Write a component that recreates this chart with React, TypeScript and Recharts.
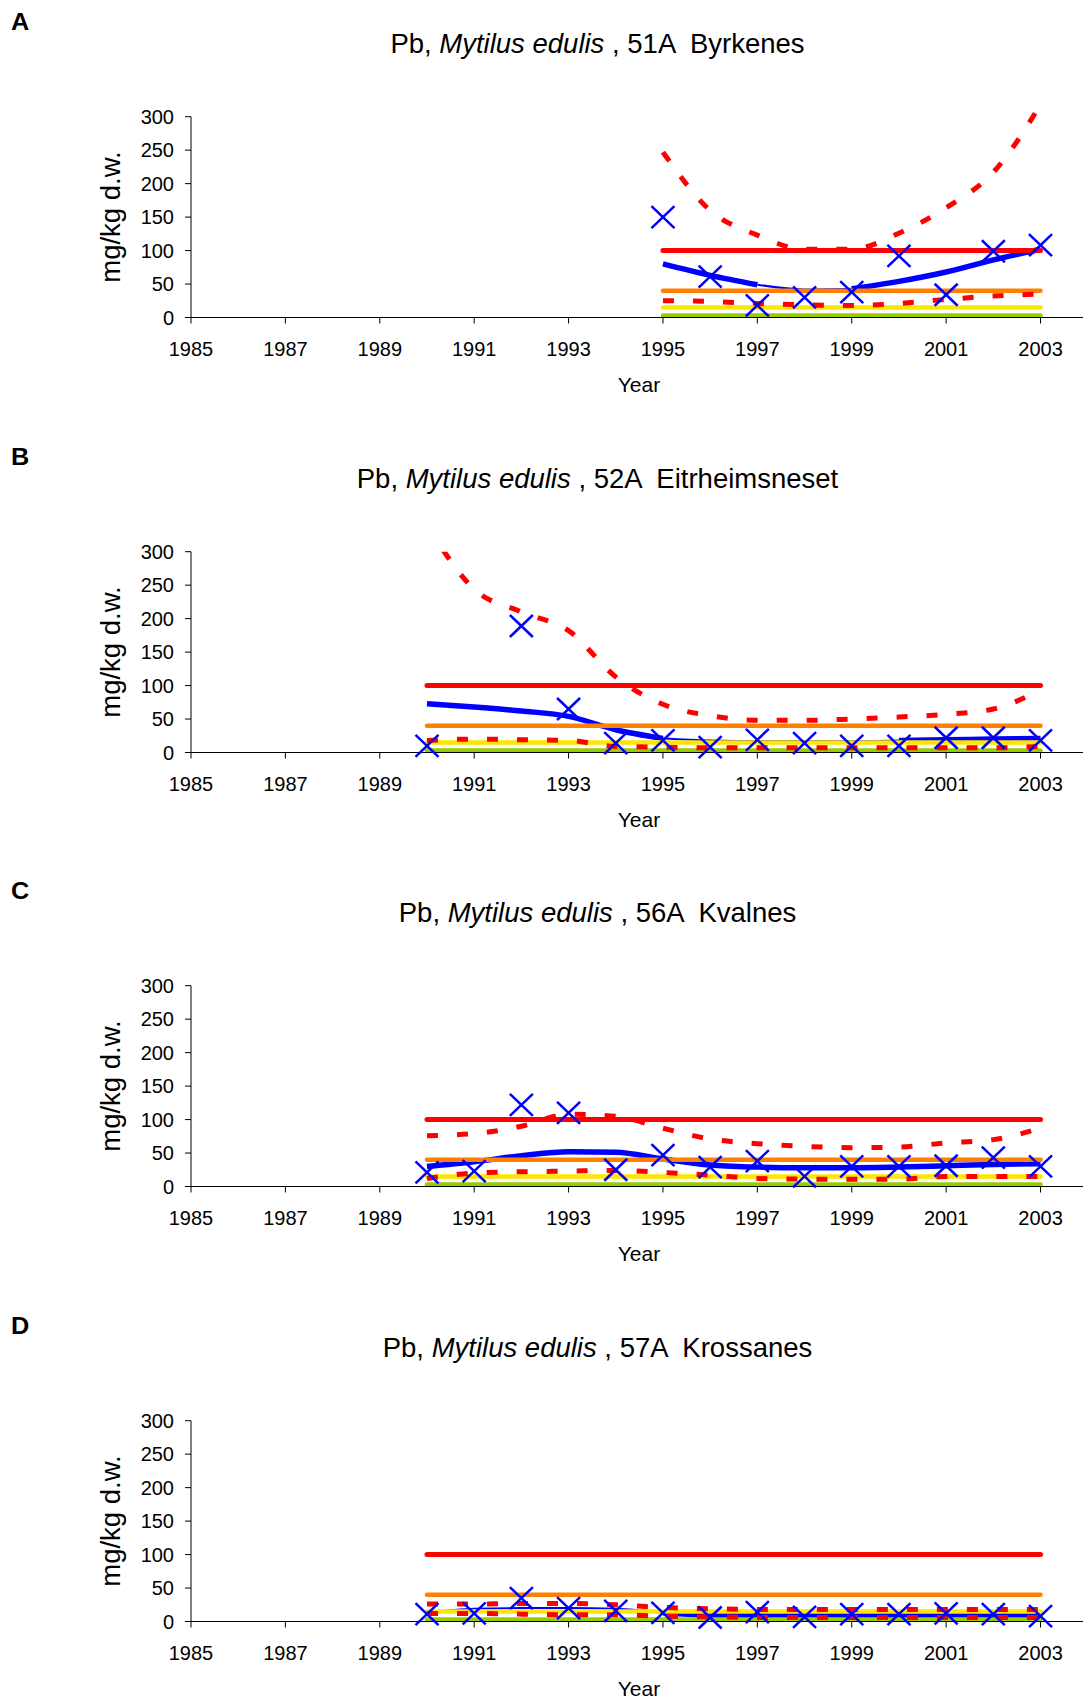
import React from 'react';
import { ComposedChart, Line, XAxis, YAxis, ReferenceLine } from 'recharts';

// ---------- data ----------
const yearsA = [1995, 1996, 1997, 1998, 1999, 2000, 2001, 2002, 2003];
const yearsLong = [1990, 1991, 1992, 1993, 1994, 1995, 1996, 1997, 1998, 1999, 2000, 2001, 2002, 2003];

const obsA = [150, 61, 18, 30, 38, 92, 34, 99, 108];
const trendA = [80, 63, 49, 42, 43, 54, 68, 86, 102];
const upperA = [247, 160, 123, 102, 102, 126, 164, 217, 318];
const lowerA = [25, 24, 21, 19, 18, 21, 27, 32, 35];

const obsB = [10, null, 189, 65, 14, 18, 8, 19, 14, 10, 10, 22, 22, 18];
const trendB = [73, 68, 62, 54, 34, 21, 18, 17, 17, 17, 18, 19, 20, 21];
const upperB = [340, 244, 210, 182, 113, 72, 55, 48, 48, 50, 53, 57, 65, 93];
const lowerB = [18, 20, 19, 18, 9, 8, 7, 7, 7, 7, 7, 7, 7, 9];

const obsC = [21, 23, 122, 110, 25, 47, 29, 38, 15, 30, 30, 31, 43, 30];
const trendC = [30, 37, 46, 52, 51, 41, 32, 29, 28, 28, 29, 31, 33, 34];
const upperC = [76, 79, 90, 108, 105, 87, 71, 64, 60, 58, 59, 65, 70, 87];
const lowerC = [12, 20, 22, 23, 24, 21, 17, 12, 11, 11, 11, 15, 15, 15];

const obsD = [11, 12, 35, 20, 16, 13, 6, 14, 7, 11, 11, 12, 11, 8];
const trendD = [13, 19, 20, 20, 19, 13, 9.5, 9, 9, 9, 9, 9, 9, 9];
const upperD = [26, 26, 27, 27, 25, 21, 19, 18, 18, 18, 18, 18, 18, 18];
const lowerD = [12, 12, 11, 10, 10, 8, 7, 6, 6, 6, 6, 6, 6, 6];

// SFT classification limits (mg/kg d.w.)
const limitGreen = 3;
const limitYellow = 15;
const limitOrange = 40;
const limitRed = 100;

const xTicks = [1985, 1987, 1989, 1991, 1993, 1995, 1997, 1999, 2001, 2003];
const yTicks = [0, 50, 100, 150, 200, 250, 300];

const letters = ['A', 'B', 'C', 'D'];
const stations = ['51A  Byrkenes', '52A  Eitrheimsneset', '56A  Kvalnes', '57A  Krossanes'];
const species = 'Mytilus edulis';
const yLabel = 'mg/kg d.w.';
const xLabel = 'Year';

// ---------- layout / style ----------
const FONT = '"Liberation Sans", Arial, Helvetica, sans-serif';
const W = 1083;
const H = 435;
const STEP = 434.7;
const PLOT_LEFT = 191;
const Y0 = 317.5;
const PX_PER_UNIT = 200.8 / 300;
const Y_AXIS_W = 60;
const X_AXIS_H = 30;

const RED = '#FF0000';
const ORANGE = '#FF8000';
const YELLOW = '#FFE600';
const GREEN = '#99CC00';
const BLUE = '#0000FF';

type PanelCfg = {
  years: number[];
  obs: (number | null)[];
  trend: number[];
  upper: number[];
  lower: number[];
  thin: [number, number] | null;
  yMax: number;
};

const panels: PanelCfg[] = [
  { years: yearsA, obs: obsA, trend: trendA, upper: upperA, lower: lowerA, thin: [1997, 1999], yMax: 320 },
  { years: yearsLong, obs: obsB, trend: trendB, upper: upperB, lower: lowerB, thin: [1995, 2000], yMax: 300 },
  { years: yearsLong, obs: obsC, trend: trendC, upper: upperC, lower: lowerC, thin: null, yMax: 300 },
  { years: yearsLong, obs: obsD, trend: trendD, upper: upperD, lower: lowerD, thin: [1990, 1995], yMax: 300 },
];

const XMark = (props: any) => {
  const { cx, cy, value, index } = props;
  if (cx == null || cy == null || value == null || Number.isNaN(cy)) return <g key={`xm-${index}`} />;
  const hx = 11.5;
  const hy = 11;
  return (
    <g key={`xm-${index}`}>
      <line x1={cx - hx} y1={cy - hy} x2={cx + hx} y2={cy + hy} stroke={BLUE} strokeWidth={2.5} />
      <line x1={cx - hx} y1={cy + hy} x2={cx + hx} y2={cy - hy} stroke={BLUE} strokeWidth={2.5} />
    </g>
  );
};

function Txt(props: { x: number; y: number; size: number; weight?: string; rotate?: number; scaleX?: number; anchor?: 'center' | 'left'; children: React.ReactNode }) {
  const { x, y, size, weight, rotate, scaleX, anchor, children } = props;
  const tx = anchor === 'left' ? '0' : '-50%';
  return (
    <div
      style={{
        position: 'absolute',
        left: x,
        top: y,
        transform: `translate(${tx}, -50%)${rotate ? ` rotate(${rotate}deg)` : ''}${scaleX ? ` scaleX(${scaleX})` : ''}`,
        transformOrigin: anchor === 'left' ? 'left center' : 'center center',
        fontFamily: FONT,
        fontSize: size,
        fontWeight: weight || 'normal',
        lineHeight: 1,
        whiteSpace: 'pre',
        color: '#000',
      }}
    >
      {children}
    </div>
  );
}

function Panel({ cfg, index }: { cfg: PanelCfg; index: number }) {
  const top = index * STEP;
  const plotTop = Y0 - cfg.yMax * PX_PER_UNIT;
  const data = cfg.years.map((year, i) => {
    const t = cfg.trend[i];
    const isThin = cfg.thin ? year >= cfg.thin[0] && year <= cfg.thin[1] : false;
    const isThick = cfg.thin ? year <= cfg.thin[0] || year >= cfg.thin[1] : true;
    return {
      year,
      obs: cfg.obs[i],
      trendThick: isThick ? t : null,
      trendThin: isThin ? t : null,
      upper: cfg.upper[i],
      lower: cfg.lower[i],
      green: limitGreen,
      yellow: limitYellow,
      orange: limitOrange,
      red: limitRed,
    };
  });

  const common = { isAnimationActive: false, dot: false, activeDot: false, legendType: 'none' as const, yAxisId: 'm', type: 'monotone' as const };
  const classLine = { ...common, type: 'linear' as const, strokeLinecap: 'round' as const };

  return (
    <div style={{ position: 'absolute', left: 0, top, width: W, height: H }}>
      <ComposedChart
        width={W}
        height={H}
        data={data}
        margin={{ top: plotTop, right: 0, left: PLOT_LEFT - Y_AXIS_W, bottom: H - Y0 - X_AXIS_H }}
      >
        <XAxis
          dataKey="year"
          type="number"
          domain={[1985, 2003.9]}
          ticks={xTicks}
          interval={0}
          height={X_AXIS_H}
          axisLine={{ stroke: '#000', strokeWidth: 1 }}
          tickLine={{ stroke: '#000' }}
          tickSize={6}
          tickMargin={18}
          tick={{ fill: '#000', fontSize: 20, fontFamily: FONT }}
        />
        <YAxis
          yAxisId="c"
          type="number"
          width={Y_AXIS_W}
          domain={[0, cfg.yMax]}
          allowDataOverflow
          ticks={yTicks}
          interval={0}
          axisLine={false}
          tickLine={{ stroke: '#000' }}
          tickSize={6}
          tickMargin={11}
          tick={{ fill: '#000', fontSize: 20, fontFamily: FONT }}
        />
        <YAxis yAxisId="m" type="number" hide domain={[0, cfg.yMax]} ticks={yTicks} />
        <ReferenceLine
          yAxisId="c"
          segment={[{ x: 1985, y: 0 }, { x: 1985, y: 300 }]}
          stroke="#000"
          strokeWidth={1}
        />
        <Line {...common} dataKey="trendThick" stroke={BLUE} strokeWidth={5.5} />
        <Line {...common} dataKey="trendThin" stroke={BLUE} strokeWidth={2} />
        <Line {...classLine} dataKey="green" stroke={GREEN} strokeWidth={4.5} />
        <Line {...classLine} dataKey="yellow" stroke={YELLOW} strokeWidth={4.5} />
        <Line {...classLine} dataKey="orange" stroke={ORANGE} strokeWidth={4.5} />
        <Line {...classLine} dataKey="red" stroke={RED} strokeWidth={5} />
        <Line {...common} yAxisId="c" dataKey="upper" stroke={RED} strokeWidth={5} strokeDasharray="11 19" />
        <Line {...common} yAxisId="c" dataKey="lower" stroke={RED} strokeWidth={5} strokeDasharray="11 19" />
        <Line
          isAnimationActive={false}
          yAxisId="m"
          type="linear"
          dataKey="obs"
          stroke="none"
          strokeWidth={0}
          dot={XMark}
          activeDot={false}
          legendType="none"
        />
      </ComposedChart>
      <Txt x={11} y={22} size={23} weight="bold" scaleX={1.1} anchor="left">{letters[index]}</Txt>
      <Txt x={597.5} y={44} size={27.5}>
        {'Pb, '}
        <i>{species}</i>
        {' , ' + stations[index]}
      </Txt>
      <Txt x={111} y={217} size={27.5} rotate={-90}>{yLabel}</Txt>
      <Txt x={639} y={384} size={21}>{xLabel}</Txt>
    </div>
  );
}

export default function App() {
  return (
    <div style={{ position: 'absolute', left: 0, top: 0, width: W, height: 1699, overflow: 'hidden', background: '#fff' }}>
      {panels.map((cfg, i) => (
        <Panel key={i} cfg={cfg} index={i} />
      ))}
    </div>
  );
}
